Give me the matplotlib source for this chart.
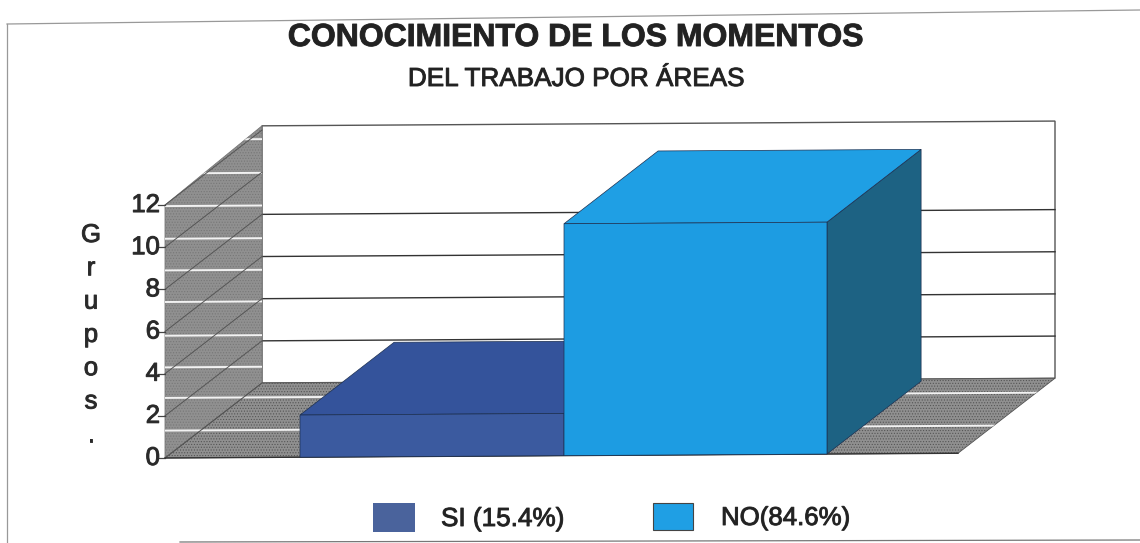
import matplotlib
matplotlib.use('Agg')
import matplotlib.pyplot as plt
import matplotlib.patheffects as pe
from matplotlib.patches import Polygon, Rectangle

plt.rcParams['font.family'] = ['Liberation Sans', 'DejaVu Sans']
plt.rcParams['hatch.linewidth'] = 0.5
plt.rcParams['hatch.color'] = '#a6a6a6'

# Data
series_names = ['SI (15.4%)', 'NO(84.6%)']
series_values = [2, 11]
y_ticks = [0, 2, 4, 6, 8, 10, 12]
back_grid = [2, 4, 6, 8]
front_colors = ['#3b5a9f', '#1d9ce2']
top_colors = ['#34539b', '#1f9fe4']
side_colors = ['#263f70', '#1d6283']
bar_edges = [(300, 564), (564, 827)]
# white streaks on the grey walls, value height at the left edge of the floor
streaks = [1.3, 2.85, 4.3, 5.8, 7.4, 8.9, 10.4, 11.95, 13.5, 15.1]

# Slight stroke to imitate the heavy scanned print
ink = [pe.withStroke(linewidth=0.7, foreground='#333333')]

fig = plt.figure(figsize=(11.4, 5.43), dpi=100, facecolor='white')
ax = fig.add_axes([0, 0, 1, 1])
ax.set_xlim(0, 1140)
ax.set_ylim(543, 0)
ax.axis('off')


# Oblique projection used by the fake 3D chart
def proj(x, v, d=0.0):
    return (x + 97 * d, 458 - 21.08 * v - 0.006 * (x - 165) - 75 * d)


x0, x1 = 165, 958
top = 12.2

# Back wall
wall = Polygon([proj(x0, 0, 1), proj(x1, 0, 1), proj(x1, top, 1), proj(x0, top, 1)],
               facecolor='white', edgecolor='#555555', lw=1.0, zorder=1)
ax.add_patch(wall)
for v in back_grid:
    a, b = proj(x0, v, 1), proj(x1, v, 1)
    ax.plot([a[0], b[0]], [a[1], b[1]], color='#333333', lw=1.0, zorder=2)

# Side wall and floor
grey = '#909090'
side = Polygon([proj(x0, 0), proj(x0, 0, 1), proj(x0, top, 1), proj(x0, 12)],
               facecolor=grey, edgecolor='#777777', hatch='......', lw=0.6, zorder=2)
floor = Polygon([proj(x0, 0), proj(x1, 0), proj(x1, 0, 1), proj(x0, 0, 1)],
                facecolor=grey, edgecolor='#555555', hatch='......', lw=0.6, zorder=2)
ax.add_patch(side)
ax.add_patch(floor)

for v in streaks:
    a, b = proj(x0, v), proj(1060, v)
    for patch in (side, floor):
        line, = ax.plot([a[0], b[0]], [a[1], b[1]], color='#f2f2f2', lw=1.4, zorder=3)
        line.set_clip_path(patch)

for v in y_ticks:
    a, b = proj(x0, v), proj(x0, v, 1)
    ax.plot([a[0], b[0]], [a[1], b[1]], color='#555555', lw=0.7, zorder=3)
    ax.plot([x0 - 7, x0], [a[1], a[1]], color='#444444', lw=0.9, zorder=3)
    ax.text(x0 - 5, a[1], str(v), ha='right', va='center', fontsize=18.5, color='#2a2a2a',
            path_effects=ink)
a, b = proj(x0, 0), proj(x1, 0)
ax.plot([a[0], b[0]], [a[1], b[1]], color='#333333', lw=1.0, zorder=3)

# Bars
depth = 0.97
for i, val in enumerate(series_values):
    xa, xb = bar_edges[i]
    ec = '#1c2f50'
    ax.add_patch(Polygon([proj(xb, 0), proj(xb, 0, depth), proj(xb, val, depth), proj(xb, val)],
                         facecolor=side_colors[i], edgecolor=ec, lw=0.5, zorder=4 + i))
    ax.add_patch(Polygon([proj(xa, val), proj(xb, val), proj(xb, val, depth), proj(xa, val, depth)],
                         facecolor=top_colors[i], edgecolor=ec, lw=0.5, zorder=4 + i))
    ax.add_patch(Polygon([proj(xa, 0), proj(xb, 0), proj(xb, val), proj(xa, val)],
                         facecolor=front_colors[i], edgecolor=ec, lw=0.5, zorder=4 + i))

# Titles
ax.text(576, 38, 'CONOCIMIENTO DE LOS MOMENTOS', ha='center', va='center',
        fontsize=23, fontweight='bold', color='#222222', path_effects=ink)
ax.text(576, 79, 'DEL TRABAJO POR ÁREAS', ha='center', va='center',
        fontsize=18.8, color='#222222', path_effects=ink)

# Vertical axis label, one letter per row
for i, ch in enumerate('Grupos.'):
    ax.text(91, 235 + 33.3 * i, ch, ha='center', va='center', fontsize=18.5, color='#2a2a2a',
            path_effects=ink)

# Legend
ax.add_patch(Rectangle((373, 503), 42, 29, facecolor='#4a639c', edgecolor='none'))
ax.text(441, 519, series_names[0], ha='left', va='center', fontsize=18.8, color='#222222',
        path_effects=ink)
ax.add_patch(Rectangle((653, 503), 40, 27, facecolor='#1f9fe4', edgecolor='#444444', lw=0.8))
ax.text(721, 518, series_names[1], ha='left', va='center', fontsize=18.6, color='#222222',
        path_effects=ink)

# Scanned page frame
ax.plot([7, 7], [24, 543], color='#999999', lw=0.9)
ax.plot([7, 1140], [24, 10], color='#999999', lw=0.9)
ax.plot([180, 1140], [542, 540], color='#777777', lw=0.9)

fig.savefig('out.png', dpi=100)
